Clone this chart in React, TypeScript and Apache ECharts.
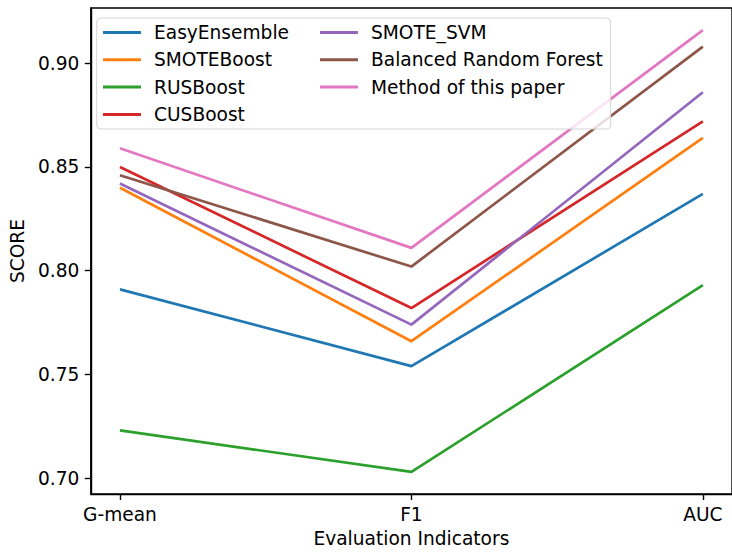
import React, { useEffect, useRef } from "react";
import * as echarts from "echarts";

const categories = ["G-mean", "F1", "AUC"];
const yTicks = [0.7, 0.75, 0.8, 0.85, 0.9];

const seriesNames = [
  "EasyEnsemble",
  "SMOTEBoost",
  "RUSBoost",
  "CUSBoost",
  "SMOTE_SVM",
  "Balanced Random Forest",
  "Method of this paper",
];

const easyEnsemble = [0.791, 0.754, 0.837];
const smoteBoost = [0.84, 0.766, 0.864];
const rusBoost = [0.723, 0.703, 0.793];
const cusBoost = [0.85, 0.782, 0.872];
const smoteSvm = [0.842, 0.774, 0.886];
const balancedRF = [0.846, 0.802, 0.908];
const thisPaper = [0.859, 0.811, 0.916];

const seriesValues = [easyEnsemble, smoteBoost, rusBoost, cusBoost, smoteSvm, balancedRF, thisPaper];
const colors = ["#1f77b4", "#ff7f0e", "#2ca02c", "#d62728", "#9467bd", "#8c564b", "#e377c2"];

const FONT = "DejaVu Sans";
const FS = 18.6;

export default function App() {
  const ref = useRef<HTMLDivElement>(null);

  useEffect(() => {
    document.body.style.margin = "0";
    document.body.style.overflow = "hidden";
    if (!ref.current) return;
    const chart = echarts.init(ref.current, null, { renderer: "svg" });
    const legendCommon = {
      orient: "vertical" as const,
      top: 23,
      padding: 0,
      itemWidth: 38,
      itemHeight: 3,
      itemGap: 8.3,
      icon: "rect",
      textStyle: { fontFamily: FONT, fontSize: FS, color: "#000", lineHeight: 18, padding: [0, 0, 0, 8] },
    };
    chart.setOption({
      animation: false,
      backgroundColor: "#fff",
      textStyle: { fontFamily: FONT },
      grid: {
        left: 87.3,
        right: -8,
        top: 8,
        bottom: 57.5,
        show: true,
        borderColor: "#000",
        borderWidth: 1.4,
        backgroundColor: "transparent",
      },
      legend: [
        { ...legendCommon, left: 103, data: seriesNames.slice(0, 4).map((n, i) => ({ name: n, itemStyle: { color: colors[i] } })) },
        { ...legendCommon, left: 320, data: seriesNames.slice(4).map((n, i) => ({ name: n, itemStyle: { color: colors[i + 4] } })) },
      ],
      graphic: [
        {
          type: "rect",
          z: 3,
          shape: { x: 96.7, y: 18, width: 514, height: 111, r: 4 },
          style: { fill: "rgba(255,255,255,0.8)", stroke: "#d4d4d4", lineWidth: 1 },
        },
      ],
      xAxis: {
        type: "value",
        min: -0.1,
        max: 2.1,
        name: "Evaluation Indicators",
        nameLocation: "middle",
        nameGap: 35,
        nameTextStyle: { fontFamily: FONT, fontSize: FS, color: "#000" },
        splitLine: { show: false },
        axisLine: { show: true, onZero: false, lineStyle: { color: "#000", width: 1.4 } },
        axisTick: { show: true, length: 6, lineStyle: { color: "#000", width: 1.4 }, customValues: [0, 1, 2] },
        axisLabel: {
          customValues: [0, 1, 2],
          margin: 11,
          fontFamily: FONT,
          fontSize: FS,
          color: "#000",
          formatter: (v: number) => categories[Math.round(v)] ?? "",
        },
      },
      yAxis: {
        type: "value",
        min: 0.69235,
        max: 0.92665,
        name: "SCORE",
        nameLocation: "middle",
        nameGap: 60,
        nameTextStyle: { fontFamily: FONT, fontSize: FS, color: "#000" },
        splitLine: { show: false },
        axisLine: { show: true, onZero: false, lineStyle: { color: "#000", width: 1.4 } },
        axisTick: { show: true, length: 6, lineStyle: { color: "#000", width: 1.4 }, customValues: yTicks },
        axisLabel: {
          customValues: yTicks,
          margin: 11.5,
          fontFamily: FONT,
          fontSize: FS,
          color: "#000",
          formatter: (v: number) => v.toFixed(2),
        },
      },
      series: seriesNames.map((name, i) => ({
        name,
        type: "line",
        data: categories.map((_, j) => [j, seriesValues[i][j]]),
        symbol: "none",
        color: colors[i],
        lineStyle: { color: colors[i], width: 2.7 },
        z: 2,
      })),
    });
    return () => chart.dispose();
  }, []);

  return <div ref={ref} style={{ width: 732, height: 553 }} />;
}
